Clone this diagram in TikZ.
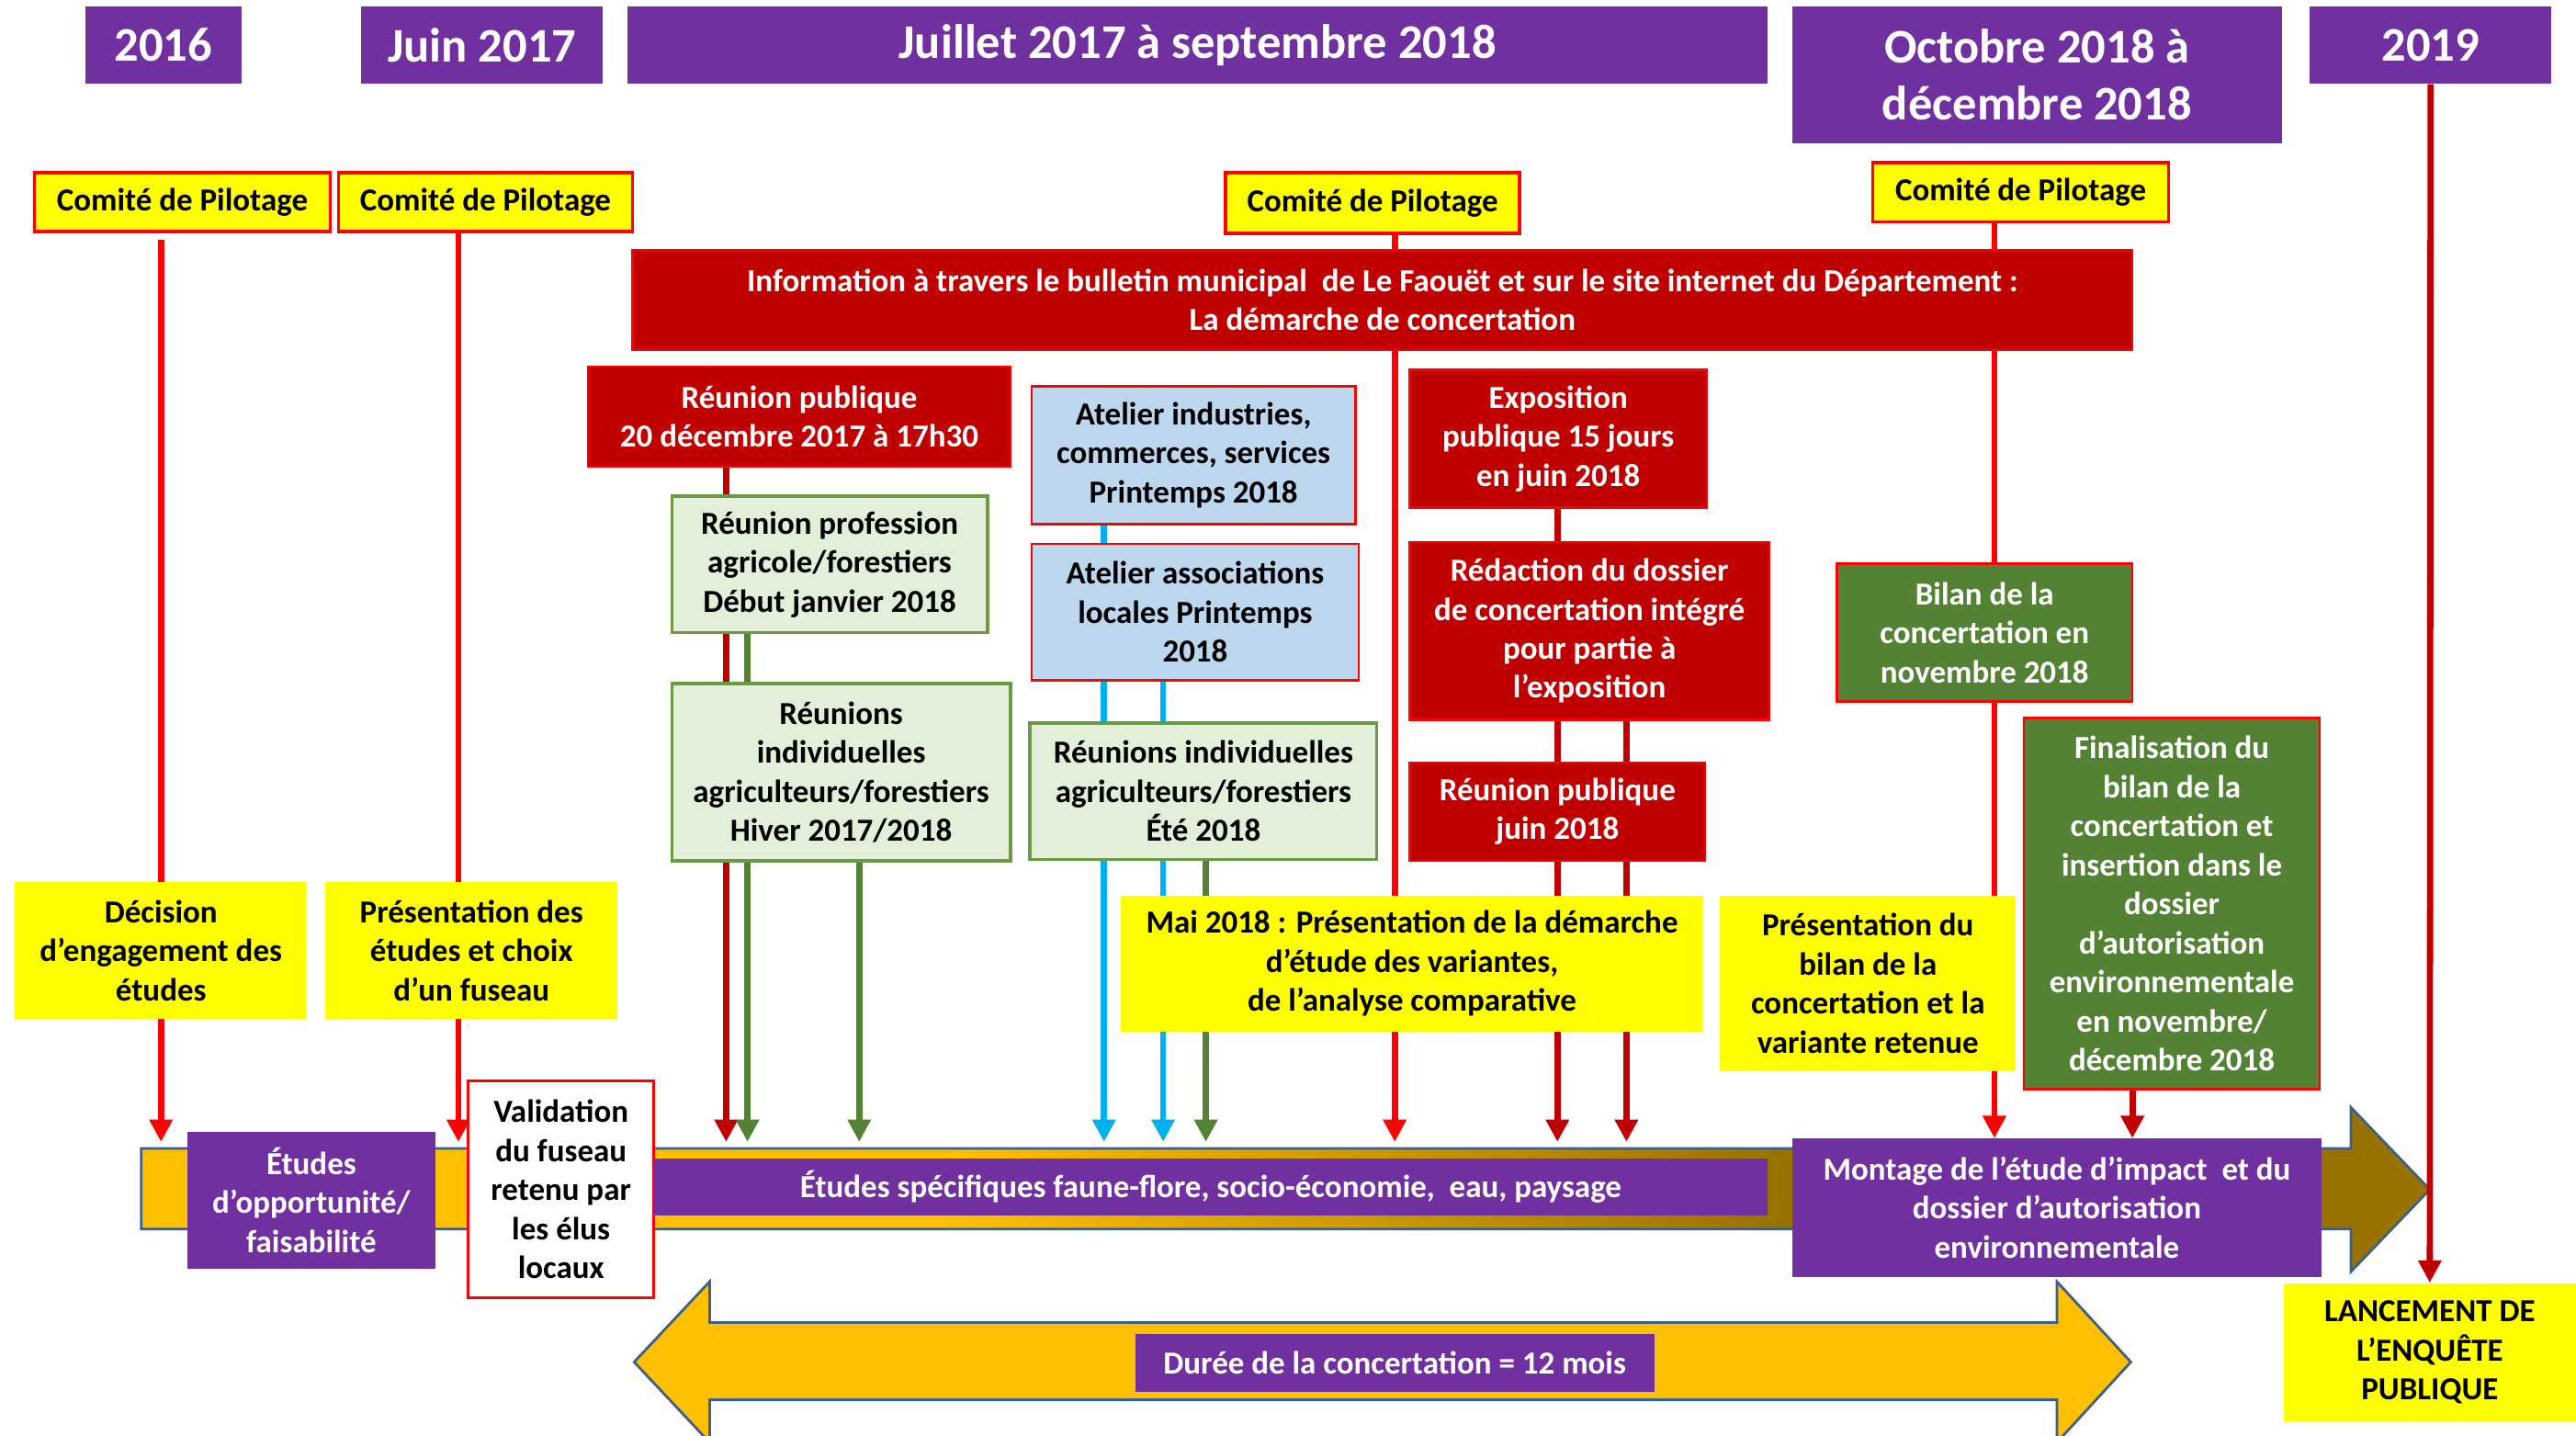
\documentclass[tikz,border=0pt]{standalone}
\usepackage{fontspec}
\setmainfont{Carlito}
\usetikzlibrary{arrows.meta}
\definecolor{purp}{HTML}{7030A0}
\definecolor{dred}{HTML}{C00000}
\definecolor{bred}{HTML}{FF0000}
\definecolor{yel}{HTML}{FFFF00}
\definecolor{dgreen}{HTML}{548235}
\definecolor{lgreen}{HTML}{E2F0D9}
\definecolor{gborder}{HTML}{6A9A45}
\definecolor{lblue}{HTML}{BDD7EE}
\definecolor{cyanl}{HTML}{00B0F0}
\definecolor{gold}{HTML}{FFC000}
\definecolor{dgold}{HTML}{997300}
\definecolor{outl}{HTML}{3E5F8A}
\pgfdeclarelayer{back}
\pgfdeclarelayer{lines}
\pgfsetlayers{back,lines,main}
\newcommand\bodyfont{\fontsize{13.9}{16.9}\selectfont\bfseries}
\newcommand\titlefont{\fontsize{20.9}{24.9}\selectfont\bfseries}
\begin{document}
\begin{tikzpicture}[x=0.025cm,y=-0.025cm,
  rect/.style n args={4}{minimum width={(#3-#1)*0.025cm},minimum height={(#4-#2)*0.025cm},at={({(#1+#3)/2},{(#2+#4)/2})}},
  basebox/.style={inner sep=0pt, align=center, font=\bodyfont},
  header/.style={basebox, fill=purp, text=white, font=\titlefont},
  comite/.style={basebox, fill=yel, draw=bred, line width=1.4pt, text=black},
  redbox/.style={basebox, fill=dred, draw=bred, line width=1pt, text=white},
  lgbox/.style={basebox, fill=lgreen, draw=gborder, line width=1.4pt, text=black},
  bluebox/.style={basebox, fill=lblue, draw=bred, line width=1pt, text=black},
  dgbox/.style={basebox, fill=dgreen, draw=bred, line width=1pt, text=white},
  ybox/.style={basebox, fill=yel, text=black},
  pbox/.style={basebox, fill=purp, text=white},
  wbox/.style={basebox, fill=white, draw=bred, line width=1pt, text=black},
  conn/.style={line width=2.7pt, -{Triangle[width=0.34cm,length=0.34cm]}},
  bigarrow/.style={draw=outl, line width=1.1pt}
]
\useasboundingbox (0,0) rectangle (1568,873.5);

% ---------- headers ----------
\node[header, rect={52}{4}{147}{51}] (h2016) {2016};
\node[header, rect={220}{4}{367}{51}] (hjuin) {Juin 2017};
\node[header, rect={382}{4}{1076}{51}] (hjuil) {Juillet 2017 à septembre 2018};
\node[header, rect={1091}{4}{1389}{87}] (hoct) {Octobre 2018 à\\décembre 2018};
\node[header, rect={1406}{4}{1553}{51}] (h2019) {2019};

% ---------- comites ----------
\node[comite, rect={21}{105}{201}{141}] (comite1) {Comité de Pilotage};
\node[comite, rect={206}{105}{385}{141}] (comite2) {Comité de Pilotage};
\node[comite, rect={746}{105}{925}{142}] (comite3) {Comité de Pilotage};
\node[comite, rect={1140}{99}{1320}{135}] (comite4) {Comité de Pilotage};

% ---------- banner ----------
\node[redbox, rect={385}{152}{1298}{213}] (banner) {Information à travers le bulletin municipal \ de Le Faouët et sur le site internet du Département :\\La démarche de concertation};

% ---------- middle boxes ----------
\node[redbox, rect={358}{223}{615}{284}] (rpub) {Réunion publique\\20 décembre 2017 à 17h30};
\node[lgbox, rect={409}{302}{601}{385}] (rprof) {Réunion profession\\agricole/forestiers\\Début janvier 2018};
\node[lgbox, rect={409}{416}{615}{524}] (rind) {Réunions\\individuelles\\agriculteurs/forestiers\\Hiver 2017/2018};
\node[bluebox, rect={628}{235}{825}{319}] (atind) {Atelier industries,\\commerces, services\\Printemps 2018};
\node[bluebox, rect={628}{331}{827}{414}] (atass) {Atelier associations\\locales Printemps\\2018};
\node[lgbox, rect={627}{440}{838}{523}] (rete) {Réunions individuelles\\agriculteurs/forestiers\\Été 2018};
\node[redbox, rect={858}{225}{1039}{309}] (expo) {Exposition\\publique 15 jours\\en juin 2018};
\node[redbox, rect={858}{330}{1077}{438}] (redac) {Rédaction du dossier\\de concertation intégré\\pour partie à\\l’exposition};
\node[redbox, rect={858}{464}{1038}{524}] (rjuin) {Réunion publique\\juin 2018};
\node[dgbox, rect={1118}{343}{1298}{427}] (bilan) {Bilan de la\\concertation en\\novembre 2018};
\node[dgbox, rect={1232}{437}{1412}{663}] (final) {Finalisation du\\bilan de la\\concertation et\\insertion dans le\\dossier\\d’autorisation\\environnementale\\en novembre/\\décembre 2018};

% ---------- yellow boxes ----------
\node[ybox, rect={9}{537}{187}{620}] (dec) {Décision\\d’engagement des\\études};
\node[ybox, rect={198}{537}{376}{620}] (pres) {Présentation des\\études et choix\\d’un fuseau};
\node[ybox, rect={682}{545}{1037}{628}] (mai) {Mai 2018 : Présentation de la démarche\\d’étude des variantes,\\de l’analyse comparative};
\node[ybox, rect={1047}{545}{1227}{652}] (presb) {Présentation du\\bilan de la\\concertation et la\\variante retenue};

% ---------- timeline boxes ----------
\node[pbox, rect={114}{689}{265}{772}] (opp) {Études\\d’opportunité/\\faisabilité};
\node[wbox, rect={285}{658}{398}{790}] (valid) {Validation\\du fuseau\\retenu par\\les élus\\locaux};
\node[pbox, rect={398}{705}{1076}{740}] (spec) {Études spécifiques faune-flore, socio-économie, \ eau, paysage};
\node[pbox, rect={1091}{693}{1413}{777}] (montage) {Montage de l’étude d’impact \ et du\\dossier d’autorisation\\environnementale};
\node[pbox, rect={691}{812}{1007}{847}] (duree) {Durée de la concertation = 12 mois};
\node[ybox, rect={1390}{781}{1568}{865}] (lanc) {LANCEMENT DE\\L’ENQUÊTE\\PUBLIQUE};

% ---------- big arrows ----------
\begin{pgfonlayer}{back}
  \begin{scope}
    \clip (86,699) -- (1431,699) -- (1431,674) -- (1479,724) -- (1431,774) -- (1431,748) -- (86,748) -- cycle;
    \fill[gold] (80,670) rectangle (576,780);
    \shade[left color=gold, right color=dgold] (574,670) rectangle (1082,780);
    \fill[dgold] (1080,670) rectangle (1490,780);
  \end{scope}
  \draw[bigarrow] (86,699) -- (1431,699) -- (1431,674) -- (1479,724) -- (1431,774) -- (1431,748) -- (86,748) -- cycle;
  \begin{scope}
    \clip (0,0) rectangle (1568,873.5);
    \draw[bigarrow, fill=gold] (386,829) -- (432,780) -- (432,805) -- (1252,805) -- (1252,780) -- (1297,829) -- (1252,878) -- (1252,852) -- (432,852) -- (432,878) -- cycle;
  \end{scope}
\end{pgfonlayer}

% ---------- connectors ----------
\coordinate (axis) at (0,695);
\coordinate (x2) at (279,0);
\coordinate (x3) at (849,0);
\coordinate (x4) at (1214,0);
\coordinate (x5) at (442,0);
\coordinate (x6) at (455,0);
\coordinate (x7) at (523,0);
\coordinate (x8) at (672,0);
\coordinate (x9) at (708,0);
\coordinate (x10) at (734,0);
\coordinate (x11) at (948,0);
\coordinate (x12) at (990,0);
\coordinate (x13) at (1298,0);
\begin{pgfonlayer}{lines}
  \draw[conn, bred, shorten <=0.1cm] (dec.north |- comite1.south) -- (dec.north |- axis);
  \draw[conn, bred] (x2 |- comite2.south) -- (x2 |- axis);
  \draw[conn, bred] (x3 |- comite3.south) -- (x3 |- axis);
  \draw[conn, bred] (x4 |- comite4.south) -- (x4 |- montage.north);
  \draw[conn, dred] (x5 |- rpub.south) -- (x5 |- axis);
  \draw[conn, dgreen] (x6 |- rprof.south) -- (x6 |- axis);
  \draw[conn, dgreen] (x7 |- rind.south) -- (x7 |- axis);
  \draw[conn, cyanl] (x8 |- atind.south) -- (x8 |- axis);
  \draw[conn, cyanl] (x9 |- atass.south) -- (x9 |- axis);
  \draw[conn, dgreen] (x10 |- rete.south) -- (x10 |- axis);
  \draw[conn, dred] (x11 |- expo.south) -- (x11 |- axis);
  \draw[conn, dred] (x12 |- redac.south) -- (x12 |- axis);
  \draw[conn, dred] (x13 |- final.south) -- (x13 |- montage.north);
  \draw[conn, dred] (h2019.south) -- (lanc.north);
\end{pgfonlayer}
\end{tikzpicture}
\end{document}
